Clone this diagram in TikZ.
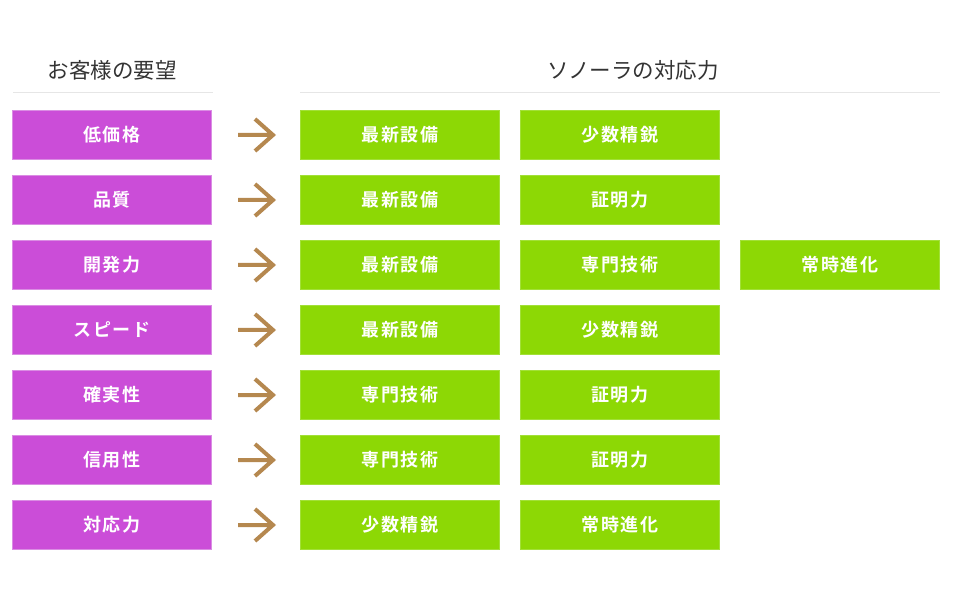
\documentclass[tikz,border=0pt]{standalone}
\usepackage{fontspec}
\newfontfamily\jpreg{Noto Sans CJK JP}
\newfontfamily\jpbold[LetterSpace=10]{Noto Sans CJK JP Bold}
\definecolor{purp}{HTML}{CB4DD8}
\definecolor{purpedge}{HTML}{DA8DE3}
\definecolor{grn}{HTML}{8DD805}
\definecolor{grnedge}{HTML}{A2E038}
\definecolor{arrc}{HTML}{B5884F}
\definecolor{rulec}{HTML}{E6E6E6}
\definecolor{titc}{HTML}{333333}
\tikzset{
  box/.style={minimum width=199pt, minimum height=49pt, inner sep=0pt, line width=1pt,
    text=white, font=\jpbold\fontsize{18}{18}\selectfont},
  need/.style={box, fill=purp, draw=purpedge},
  resp/.style={box, fill=grn, draw=grnedge},
  arr/.style={draw=arrc, line width=4pt, line join=miter},
  rule/.style={draw=rulec, line width=1pt},
  title/.style={text=titc, font=\jpreg\fontsize{21.5}{21.5}\selectfont, inner sep=0pt}
}
\begin{document}
\begin{tikzpicture}[x=1pt,y=1pt]
\useasboundingbox (0,0) rectangle (965,600);
% titles
\node[title] (t1) at (112,530) {お客様の要望};
\node[title] (t2) at (633,530) {ソノーラの対応力};
\coordinate (l1a) at (13,507);
\coordinate (l1b) at (213,507);
\coordinate (l2a) at (300,507);
\coordinate (l2b) at (940,507);
\draw[rule] (l1a) -- (l1b);
\draw[rule] (l2a) -- (l2b);
% rows
\foreach \i/\need/\ra/\rb/\rc in {
  1/低価格/最新設備/少数精鋭/,
  2/品質/最新設備/証明力/,
  3/開発力/最新設備/専門技術/常時進化,
  4/スピード/最新設備/少数精鋭/,
  5/確実性/専門技術/証明力/,
  6/信用性/専門技術/証明力/,
  7/対応力/少数精鋭/常時進化/}{
  \pgfmathsetmacro{\yy}{465-65*(\i-1)}
  \node[need] (p\i) at (112,\yy) {\need};
  \node[resp] (a\i) at (400,\yy) {\ra};
  \node[resp] (b\i) at (620,\yy) {\rb};
  \ifx\rc\empty\else
    \node[resp] (c\i) at (840,\yy) {\rc};
  \fi
  \draw[arr] ([xshift=26pt]p\i.east) -- ([xshift=-27pt]a\i.west)
    ++(-18pt,16pt) -- ++(18pt,-16pt) -- ++(-18pt,-16pt);
}
\end{tikzpicture}
\end{document}
